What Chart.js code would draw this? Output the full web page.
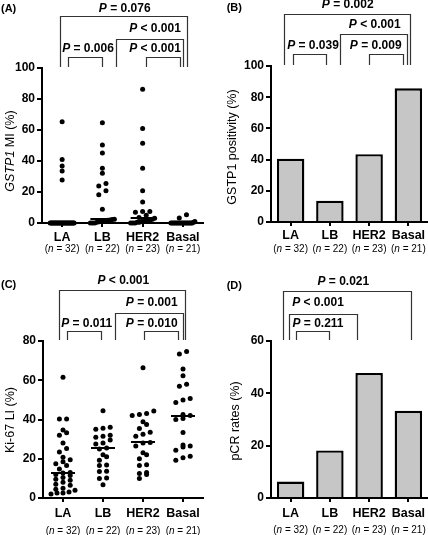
<!DOCTYPE html>
<html><head><meta charset="utf-8">
<script src="https://cdn.jsdelivr.net/npm/chart.js@4/dist/chart.umd.min.js"></script>
<style>
body{margin:0;background:#fff;width:428px;height:535px;position:relative;overflow:hidden}
canvas{position:absolute}
</style></head><body>
<canvas id="cA" width="214" height="265" style="left:0;top:0"></canvas>
<canvas id="cB" width="214" height="265" style="left:214px;top:0"></canvas>
<canvas id="cC" width="214" height="270" style="left:0;top:265px"></canvas>
<canvas id="cD" width="214" height="270" style="left:214px;top:265px"></canvas>
<script>
// ---------- DATA ----------
const categories = ['LA', 'LB', 'HER2', 'Basal'];
const groupSizes = ['32', '22', '23', '21'];

const gstp1MI_LA = [65.3, 40.9, 36.8, 33.6, 27.8,
  0,0,0,0,0,0,0,0,0, 0,0,0,0,0,0,0,0,0, 0,0,0,0,0,0,0,0,0];
const gstp1MI_LB = [64.7, 50.3, 45.2, 35.3, 32.1, 25.5, 23.8, 20.8, 18.2, 8.8, 2.5, 2.3, 2.0, 1.8, 1.5, 1.2, 1.0, 0.8, 0.5, 0, 0, 0];
const gstp1MI_HER2 = [86.3, 61.0, 51.4, 35.3, 20.8, 13.5, 7.5, 7.5, 7.0, 5.0, 3.5, 3.0, 2.5, 2.0, 1.5, 1.5, 1.0, 1.0, 0.5, 0.5, 0, 0, 0];
const gstp1MI_Basal = [5.3, 3.2, 1.0, 0.5, 0,0,0,0,0,0,0,0,0,0,0,0,0,0,0,0,0];

const gstp1Positivity = [40.6, 13.6, 43.5, 85.7];

const ki67_LA = [61.5, 40.3, 40.3, 34.6, 33.2, 32.0, 28.0, 25.2, 23.5, 20.8, 19.5, 18.5, 17.5, 16.5, 14.8, 13.0, 12.8, 12.0, 11.5, 10.5, 9.5, 9.0, 8.0, 7.0, 6.5, 5.0, 4.5, 4.0, 3.0, 2.5, 2.5, 2.0];
const ki67_LB = [44.4, 36.0, 35.5, 35.0, 32.0, 31.5, 31.0, 29.5, 28.0, 27.5, 25.5, 25.0, 22.0, 21.0, 19.2, 16.8, 16.5, 13.6, 13.5, 10.2, 10.0, 6.8];
const ki67_HER2 = [66.4, 44.3, 43.0, 42.5, 42.0, 38.8, 37.5, 35.4, 33.5, 32.5, 31.5, 28.3, 28.0, 26.5, 23.0, 22.0, 20.0, 17.0, 16.5, 13.0, 12.5, 12.0, 9.9];
const ki67_Basal = [74.7, 73.4, 65.7, 62.3, 58.0, 57.0, 50.7, 49.9, 48.7, 42.5, 42.0, 40.5, 40.0, 33.4, 27.0, 26.5, 26.0, 24.3, 21.3, 20.5, 19.2];

const pcrRates = [6.3, 18.2, 47.8, 33.3];

const pValuesA = ['= 0.076', '< 0.001', '= 0.006', '< 0.001'];
const pValuesB = ['= 0.002', '< 0.001', '= 0.039', '= 0.009'];
const pValuesC = ['< 0.001', '= 0.001', '= 0.011', '= 0.010'];
const pValuesD = ['= 0.021', '< 0.001', '= 0.211'];

const yTicksA = [0, 20, 40, 60, 80, 100];
const yTicksC = [0, 20, 40, 60, 80];
const yTicksD = [0, 20, 40, 60];

// ---------- HELPERS ----------
const FONT = "'Liberation Sans', Arial, Helvetica, sans-serif";

function drawRich(ctx, segs, x, y, align) {
  let w = 0;
  segs.forEach(s => { ctx.font = s.f; w += ctx.measureText(s.t).width; });
  let cx = align === 'left' ? x : x - w / 2;
  ctx.textBaseline = 'middle';
  ctx.textAlign = 'left';
  segs.forEach(s => { ctx.font = s.f; ctx.fillText(s.t, cx, y); cx += ctx.measureText(s.t).width; });
}

function median(arr) {
  const s = arr.slice().sort((a, b) => a - b);
  const n = s.length;
  return n % 2 ? s[(n - 1) / 2] : (s[n / 2 - 1] + s[n / 2]) / 2;
}

// column-scatter layout: points in the same pixel row are spread sideways
function swarm(vals, yPxPerUnit, xPxPerUnit, dot, halfW) {
  const idx = vals.map((v, i) => i).sort((a, b) => vals[a] - vals[b]);
  const rows = [];
  idx.forEach(i => {
    const py = vals[i] * yPxPerUnit;
    const r = rows[rows.length - 1];
    if (r && py - r.y0 < dot) r.m.push(i); else rows.push({ y0: py, m: [i] });
  });
  const off = new Array(vals.length).fill(0);
  rows.forEach(r => {
    const n = r.m.length;
    if (n === 1) return;
    const sp = Math.min(dot * 1.5, 2 * halfW / (n - 1));
    r.m.forEach((i, k) => { off[i] = (k - (n - 1) / 2) * sp / xPxPerUnit; });
  });
  return off;
}

const decoPlugin = {
  id: 'deco',
  afterDatasetsDraw(chart, args, o) {
    const ctx = chart.ctx, xs = chart.scales.x, ys = chart.scales.y, a = chart.chartArea;
    ctx.save();
    ctx.fillStyle = '#000';
    if (o.medians) {
      ctx.strokeStyle = '#000'; ctx.lineWidth = 2;
      o.medians.forEach((m, i) => {
        const px = xs.getPixelForValue(i), py = Math.round(ys.getPixelForValue(m));
        ctx.beginPath(); ctx.moveTo(px - 12, py); ctx.lineTo(px + 12, py); ctx.stroke();
      });
    }
    drawRich(ctx, [{ t: o.panel, f: 'bold 11px ' + FONT }], o.panelX, o.panelY, 'left');
    ctx.save();
    ctx.translate(o.titleX, o.titleY);
    ctx.rotate(-Math.PI / 2);
    drawRich(ctx, o.title.map(s => ({ t: s.t, f: (s.i ? 'italic ' : '') + '12.5px ' + FONT })), 0, 0, 'center');
    ctx.restore();
    ctx.strokeStyle = '#333'; ctx.lineWidth = 1.2;
    o.brackets.forEach((b, k) => {
      const x1 = Math.round(xs.getPixelForValue(b.from)) + 0.5;
      const x2 = Math.round(xs.getPixelForValue(b.to)) + 0.5;
      const y = Math.round(b.y) + 0.5;
      ctx.beginPath();
      ctx.moveTo(x1, a.top - 1); ctx.lineTo(x1, y); ctx.lineTo(x2, y); ctx.lineTo(x2, a.top - 1);
      ctx.stroke();
      drawRich(ctx, [{ t: 'P', f: 'italic bold 12px ' + FONT }, { t: ' ' + o.pvals[k], f: 'bold 12px ' + FONT }], b.tx, b.ty, 'center');
    });
    categories.forEach((c, i) => {
      const px = xs.getPixelForValue(i);
      drawRich(ctx, [{ t: c, f: 'bold 12.5px ' + FONT }], px, a.bottom + o.d1, 'center');
      drawRich(ctx, [{ t: '(', f: '10px ' + FONT }, { t: 'n', f: 'italic 10px ' + FONT }, { t: ' = ' + groupSizes[i] + ')', f: '10px ' + FONT }], px, a.bottom + o.d2, 'center');
    });
    ctx.restore();
  }
};

function yScale(L, ticks) {
  return {
    min: 0, max: ticks[ticks.length - 1],
    afterBuildTicks: s => { s.ticks = ticks.map(v => ({ value: v })); },
    ticks: { font: { family: FONT, size: 12, weight: 'bold' }, color: '#000', padding: 2 },
    grid: { display: true, drawOnChartArea: false, drawTicks: true, tickLength: 5, color: '#000', lineWidth: 2 },
    border: { display: true, color: '#000', width: 2 },
    afterFit: s => { s.width = L.left; }
  };
}
function xScale(L, H, isBar) {
  const base = {
    ticks: { display: false },
    grid: { display: true, drawOnChartArea: false, drawTicks: true, tickLength: 4, color: '#000', lineWidth: 2, offset: false },
    border: { display: true, color: '#000', width: 2 },
    afterFit: s => { s.height = H - L.bottom; }
  };
  if (isBar) return Object.assign(base, { type: 'category', offset: true });
  return Object.assign(base, { type: 'linear', min: -0.5, max: 3.5, afterBuildTicks: s => { s.ticks = [0, 1, 2, 3].map(v => ({ value: v })); } });
}

function scatterChart(id, W, H, L, groups, ticks, deco) {
  const yMax = ticks[ticks.length - 1];
  const yPx = (L.bottom - L.top) / yMax, xPx = (L.right - L.left) / 4;
  const datasets = groups.map((vals, i) => {
    const off = swarm(vals, yPx, xPx, 4.8, 12);
    return {
      data: vals.map((v, j) => ({ x: i + off[j], y: v })),
      pointRadius: 2.5, pointBackgroundColor: '#000', pointBorderWidth: 0, borderWidth: 0,
      showLine: false, clip: false
    };
  });
  deco.medians = groups.map(median);
  return new Chart(document.getElementById(id), {
    type: 'scatter',
    data: { datasets },
    options: {
      responsive: false, animation: false, devicePixelRatio: 1,
      layout: { padding: { left: 0, top: L.top, right: W - L.right, bottom: 0 } },
      plugins: { legend: { display: false }, tooltip: { enabled: false }, deco },
      scales: { x: xScale(L, H, false), y: yScale(L, ticks) }
    },
    plugins: [decoPlugin]
  });
}

function barChart(id, W, H, L, values, ticks, deco) {
  return new Chart(document.getElementById(id), {
    type: 'bar',
    data: {
      labels: categories,
      datasets: [{ data: values, backgroundColor: '#c6c6c6', borderColor: '#000', borderWidth: 2.4, barPercentage: 0.7, categoryPercentage: 1 }]
    },
    options: {
      responsive: false, animation: false, devicePixelRatio: 1,
      layout: { padding: { left: 0, top: L.top, right: W - L.right, bottom: 0 } },
      plugins: { legend: { display: false }, tooltip: { enabled: false }, deco },
      scales: { x: xScale(L, H, true), y: yScale(L, ticks) }
    },
    plugins: [decoPlugin]
  });
}

// ---------- PANELS ----------
scatterChart('cA', 214, 265, { left: 42, right: 203, top: 68, bottom: 223 },
  [gstp1MI_LA, gstp1MI_LB, gstp1MI_HER2, gstp1MI_Basal], yTicksA, {
    panel: '(A)', panelX: 1, panelY: 9,
    title: [{ t: 'GSTP1', i: true }, { t: ' MI (%)' }], titleX: 10.5, titleY: 151,
    pvals: pValuesA, d1: 15, d2: 26,
    brackets: [
      { from: -0.065, to: 3.094, y: 16, tx: 124.7, ty: 8.3 },
      { from: 1.345, to: 3.002, y: 39, tx: 155, ty: 29 },
      { from: 0.147, to: 0.984, y: 57, tx: 88, ty: 49 },
      { from: 2.072, to: 2.928, y: 57, tx: 155, ty: 49 }
    ]
  });

barChart('cB', 214, 265, { left: 57, right: 214, top: 66, bottom: 222 },
  gstp1Positivity, yTicksA, {
    panel: '(B)', panelX: 12.7, panelY: 7.5,
    title: [{ t: 'GSTP1 positivity (%)' }], titleX: 19, titleY: 147,
    pvals: pValuesB, d1: 14, d2: 27.5,
    brackets: [
      { from: -0.175, to: 3.036, y: 14, tx: 133.7, ty: 5 },
      { from: 1.264, to: 2.954, y: 34.3, tx: 160.7, ty: 25 },
      { from: 0.053, to: 0.902, y: 54, tx: 99, ty: 46 },
      { from: 2.003, to: 2.873, y: 54, tx: 161.7, ty: 46 }
    ]
  });

scatterChart('cC', 214, 270, { left: 43, right: 203, top: 76, bottom: 233 },
  [ki67_LA, ki67_LB, ki67_HER2, ki67_Basal], yTicksC, {
    panel: '(C)', panelX: 1, panelY: 20,
    title: [{ t: 'Ki-67 LI (%)' }], titleX: 10.5, titleY: 155,
    pvals: pValuesC, d1: 15.5, d2: 33,
    brackets: [
      { from: -0.1, to: 3.05, y: 25, tx: 123.3, ty: 16 },
      { from: 1.3, to: 2.99, y: 48.3, tx: 151.7, ty: 37.3 },
      { from: 0.11, to: 0.94, y: 65.7, tx: 86.7, ty: 58.3 },
      { from: 2.025, to: 2.88, y: 65.7, tx: 151.7, ty: 58.3 }
    ]
  });

barChart('cD', 214, 270, { left: 57, right: 214, top: 76, bottom: 233 },
  pcrRates, yTicksD, {
    panel: '(D)', panelX: 12.7, panelY: 20.7,
    title: [{ t: 'pCR rates (%)' }], titleX: 22, titleY: 156,
    pvals: pValuesD, d1: 15.5, d2: 32,
    brackets: [
      { from: -0.186, to: 3.06, y: 25.7, tx: 129.3, ty: 16.7 },
      { from: -0.033, to: 1.70, y: 49, tx: 104, ty: 37.3 },
      { from: 0.13, to: 0.98, y: 65.7, tx: 104, ty: 58.3 }
    ]
  });
</script>
</body></html>
